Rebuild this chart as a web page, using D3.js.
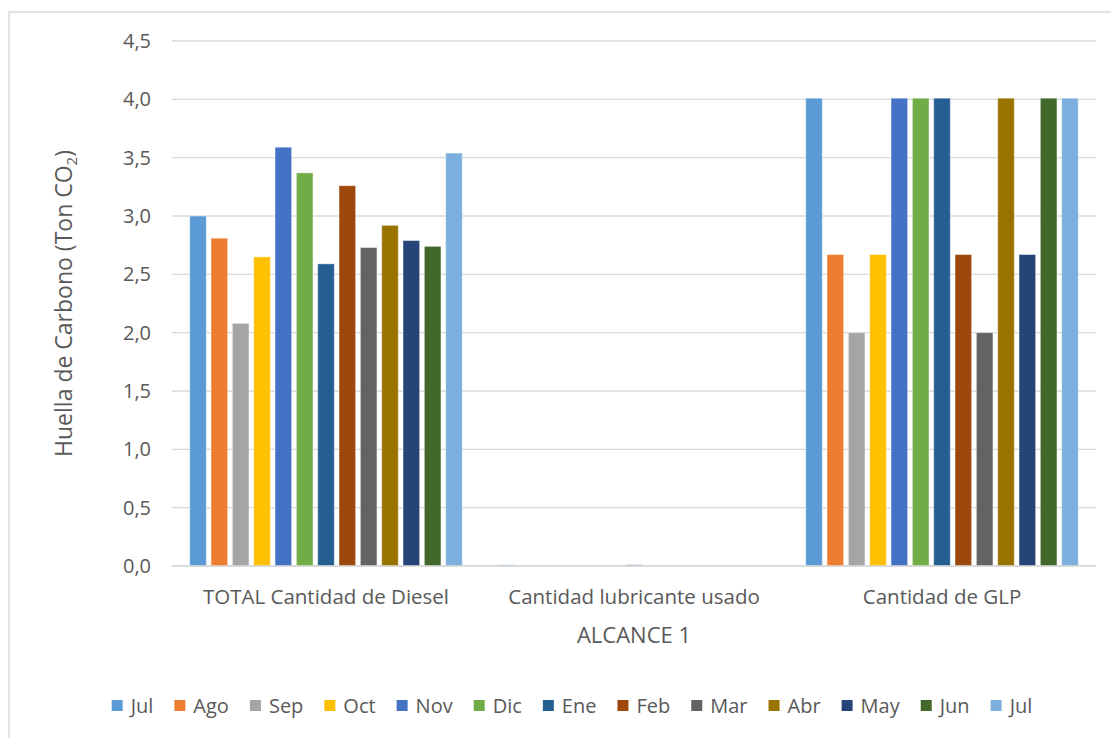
<!DOCTYPE html>
<html>
<head>
<meta charset="utf-8">
<script src="https://cdn.jsdelivr.net/npm/d3@7"></script>
<style>
  html, body { margin: 0; padding: 0; background: #fff; }
  svg { display: block; }
  text { font-family: "Open Sans", "Noto Sans", sans-serif; fill: #595959; }
</style>
</head>
<body>
<div id="chart"></div>
<script>
// Emission sources (x categories)
const categories = ["TOTAL Cantidad de Diesel", "Cantidad lubricante usado", "Cantidad de GLP"];

// Months of the reporting period (one series each)
const months = ["Jul", "Ago", "Sep", "Oct", "Nov", "Dic", "Ene", "Feb", "Mar", "Abr", "May", "Jun", "Jul"];

// Carbon footprint per source, in ton CO2, month by month
const diesel     = [3.00, 2.81, 2.08, 2.65, 3.59, 3.37, 2.59, 3.26, 2.73, 2.92, 2.79, 2.74, 3.54];
const lubricante = [0.01, 0, 0, 0, 0, 0, 0.01, 0, 0, 0, 0, 0, 0];
const glp        = [4.01, 2.67, 2.00, 2.67, 4.01, 4.01, 4.01, 2.67, 2.00, 4.01, 2.67, 4.01, 4.01];

const yTicks = [0, 0.5, 1, 1.5, 2, 2.5, 3, 3.5, 4, 4.5];

const colors = ["#5B9BD5", "#ED7D31", "#A5A5A5", "#FFC000", "#4472C4", "#70AD47",
                "#255E91", "#9E480E", "#636363", "#997300", "#264478", "#43682B", "#7CAFDD"];

const W = 1111, H = 738;
const plot = { left: 172, right: 1096, top: 41, bottom: 566 };

const series = [diesel, lubricante, glp];
const rows = categories.map((c, i) => ({
  category: c,
  values: months.map((m, j) => ({ key: j, month: m, value: series[i][j] }))
}));

const svg = d3.select("#chart").append("svg")
  .attr("width", W).attr("height", H);

// chart-area frame (open on the right and bottom edges)
svg.append("rect")
  .attr("x", 9).attr("y", 12)
  .attr("width", W + 20).attr("height", H + 20)
  .attr("fill", "none").attr("stroke", "#d9d9d9").attr("stroke-width", 1.5);

const x0 = d3.scaleBand().domain(categories).range([plot.left, plot.right]).padding(0);
const x1 = d3.scaleBand().domain(d3.range(months.length))
  .range([0, x0.bandwidth()]).paddingInner(0.22).paddingOuter(0.83);
const y = d3.scaleLinear().domain([0, 4.5]).range([plot.bottom, plot.top]);

// horizontal gridlines
svg.append("g")
  .selectAll("line").data(yTicks).join("line")
  .attr("x1", plot.left).attr("x2", plot.right)
  .attr("y1", d => y(d)).attr("y2", d => y(d))
  .attr("stroke", "#d9d9d9").attr("stroke-width", 1.4);

// y axis tick labels
const yAxis = d3.axisLeft(y).tickValues(yTicks).tickSize(0).tickPadding(0)
  .tickFormat(d => d3.format(".1f")(d).replace(".", ","));
const gy = svg.append("g").attr("transform", `translate(${plot.left - 21},0)`).call(yAxis);
gy.select(".domain").remove();
gy.selectAll("text").attr("font-size", 20).attr("fill", "#595959")
  .style("font-family", '"Open Sans", sans-serif');

// bars
const groups = svg.append("g").selectAll("g").data(rows).join("g")
  .attr("transform", d => `translate(${x0(d.category)},0)`);
groups.selectAll("rect").data(d => d.values).join("rect")
  .attr("x", d => x1(d.key))
  .attr("width", x1.bandwidth())
  .attr("y", d => y(d.value))
  .attr("height", d => y(0) - y(d.value))
  .attr("fill", d => colors[d.key])
  .attr("stroke", "#ffffff").attr("stroke-opacity", 0.45).attr("stroke-width", 1);

// baseline
svg.append("line")
  .attr("x1", plot.left).attr("x2", plot.right)
  .attr("y1", y(0)).attr("y2", y(0))
  .attr("stroke", "#d9d9d9").attr("stroke-width", 1.4);

// category labels
const xAxis = d3.axisBottom(x0).tickSize(0).tickPadding(0);
const gx = svg.append("g").attr("transform", `translate(0,${plot.bottom + 23})`).call(xAxis);
gx.select(".domain").remove();
gx.selectAll("text").attr("font-size", 20.5).attr("fill", "#595959")
  .style("font-family", '"Open Sans", sans-serif');

// axis titles
svg.append("text")
  .attr("x", (plot.left + plot.right) / 2).attr("y", 643)
  .attr("text-anchor", "middle").attr("font-size", 22)
  .text("ALCANCE 1");

const yTitle = svg.append("text")
  .attr("transform", `translate(72,${(plot.top + plot.bottom) / 2}) rotate(-90)`)
  .attr("text-anchor", "middle").attr("font-size", 23);
yTitle.append("tspan").text("Huella de Carbono (Ton CO");
yTitle.append("tspan").attr("font-size", 15).attr("dy", 5).text("2");
yTitle.append("tspan").attr("dy", -5).text(")");

// legend
const legend = svg.append("g");
const items = legend.selectAll("g").data(months.map((m, i) => ({ m, i }))).join("g");
items.append("rect").attr("width", 11).attr("height", 11).attr("y", -13)
  .attr("fill", d => colors[d.i]);
items.append("text").attr("x", 19).attr("y", 0)
  .attr("font-size", 20).text(d => d.m);
let cx = 0;
const gap = 21;
items.each(function () {
  const w = 19 + d3.select(this).select("text").node().getComputedTextLength();
  d3.select(this).attr("transform", `translate(${cx},0)`);
  cx += w + gap;
});
const legendWidth = cx - gap;
legend.attr("transform", `translate(${572 - legendWidth / 2},713)`);
</script>
</body>
</html>
